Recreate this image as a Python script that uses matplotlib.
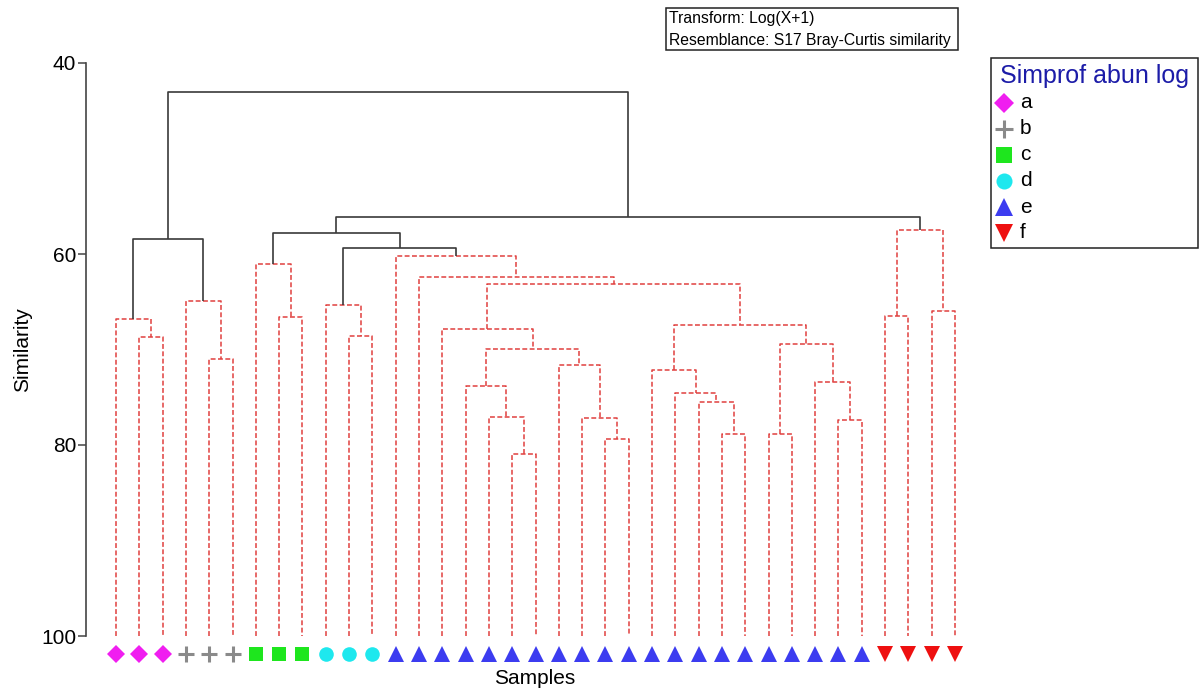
import matplotlib
matplotlib.use('Agg')
import matplotlib.pyplot as plt
from matplotlib.patches import Rectangle
from matplotlib.lines import Line2D

plt.rcParams['font.family'] = ['Liberation Sans', 'DejaVu Sans']

# --- DATA ---
# group of each sample, in leaf order
leaf_groups = ['a'] * 3 + ['b'] * 3 + ['c'] * 3 + ['d'] * 3 + ['e'] * 21 + ['f'] * 4

# merges: node id = n_leaves + merge index
left_child = [1, 0, 4, 3, 38, 7, 6, 10, 9, 17, 16, 15, 21, 20, 19, 48, 14, 26,
              25, 24, 23, 28, 31, 30, 58, 57, 53, 13, 12, 45, 43, 33, 35, 68, 67, 41]
right_child = [2, 37, 5, 39, 40, 8, 42, 11, 44, 18, 46, 47, 22, 49, 50, 51, 52, 27,
               54, 55, 56, 29, 32, 59, 60, 61, 62, 63, 64, 65, 66, 34, 36, 69, 70, 71]
similarity = [68.7, 66.8, 71.0, 64.9, 58.4, 66.6, 61.0, 68.6, 65.3, 80.9, 77.1, 73.8,
              79.4, 77.2, 71.6, 69.9, 67.9, 78.8, 75.5, 74.6, 72.1, 78.8, 77.4, 73.4,
              69.4, 67.4, 63.1, 62.4, 60.2, 59.4, 57.8, 66.5, 66.0, 57.5, 56.1, 43.0]
significant = [False, False, False, False, True, False, False, False, False, False,
               False, False, False, False, False, False, False, False, False, False,
               False, False, False, False, False, False, False, False, False, True,
               True, False, False, False, True, True]

group_names = ['a', 'b', 'c', 'd', 'e', 'f']
group_markers = ['D', '+', 's', 'o', '^', 'v']
group_colors = ['#f01ef0', '#8a8a8a', '#1ee61e', '#1ee8ee', '#3c3cf0', '#ee1010']
group_sizes = [9.5, 12, 10.5, 10.5, 12, 12]

# --- FIGURE ---
W, H = 1200, 691
fig = plt.figure(figsize=(W / 100, H / 100), dpi=100)
ax = fig.add_axes([86 / W, 1 - 636 / H, (985 - 86) / W, (636 - 63) / H])

n_leaves = len(leaf_groups)
spacing = (955 - 116) / (n_leaves - 1)
ax.set_xlim(-(116 - 86) / spacing, (985 - 116) / spacing)
ax.set_ylim(100, 40)

solid = dict(color='#3a3a3a', lw=1.2, solid_capstyle='butt')
dashed = dict(color='#e0403f', lw=1.1, dashes=(3.2, 1.6))

node_x = {i: float(i) for i in range(n_leaves)}
node_y = {i: 100.0 for i in range(n_leaves)}
for k, (l, r, s, sig) in enumerate(zip(left_child, right_child, similarity, significant)):
    nid = n_leaves + k
    style = solid if sig else dashed
    xl, xr = node_x[l], node_x[r]
    ax.plot([xl, xl, xr, xr], [node_y[l], s, s, node_y[r]], **style)
    node_x[nid] = (xl + xr) / 2
    node_y[nid] = s

# sample symbols under the leaves
for g, m, c, ms in zip(group_names, group_markers, group_colors, group_sizes):
    xs = [i for i, lg in enumerate(leaf_groups) if lg == g]
    ax.plot(xs, [101.9] * len(xs), linestyle='none', marker=m, markersize=ms,
            color=c, markeredgewidth=2.2 if m == '+' else 0, clip_on=False)

for side in ['top', 'right', 'bottom']:
    ax.spines[side].set_visible(False)
ax.spines['left'].set_color('#444444')
ax.spines['left'].set_linewidth(1.2)
ax.set_xticks([])
ax.set_yticks([40, 60, 80, 100])
ax.tick_params(axis='y', direction='out', length=6, width=1.1, color='#444444',
               labelsize=15, pad=1)

fig.text(535 / W, 1 - 678 / H, 'Samples', ha='center', va='center', fontsize=15)
fig.text(23 / W, 1 - 350 / H, 'Similarity', ha='center', va='center',
         rotation=90, fontsize=15)

# transform / resemblance note
fig.patches.append(Rectangle((666 / W, 1 - 50 / H), (958 - 666) / W, 42 / H,
                             transform=fig.transFigure, fill=False,
                             edgecolor='#222222', lw=1.1))
fig.text(669 / W, 1 - 18 / H, 'Transform: Log(X+1)', va='center', fontsize=11.3)
fig.text(669 / W, 1 - 40 / H, 'Resemblance: S17 Bray-Curtis similarity',
         va='center', fontsize=11.3)

# legend box
fig.patches.append(Rectangle((991 / W, 1 - 248 / H), (1198 - 991) / W, 190 / H,
                             transform=fig.transFigure, fill=False,
                             edgecolor='#222222', lw=1.1))
fig.text(1094 / W, 1 - 76 / H, 'Simprof abun log', ha='center', va='center',
         fontsize=18, color='#1c1ca8')
for i, (g, m, c, ms) in enumerate(zip(group_names, group_markers, group_colors, group_sizes)):
    y = 1 - (103 + 26 * i) / H
    fig.add_artist(Line2D([1004 / W], [y], transform=fig.transFigure,
                          marker=m, markersize=ms * 1.1, color=c, linestyle='none',
                          markeredgewidth=2.2 if m == '+' else 0))
    fig.text(1020 / W, y, g, va='center', fontsize=15)

fig.savefig('out.png', dpi=100)
